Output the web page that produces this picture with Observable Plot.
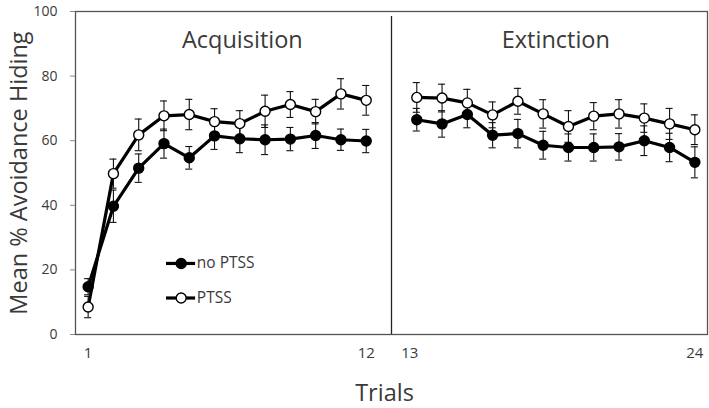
<!DOCTYPE html>
<html>
<head>
<meta charset="utf-8">
<script src="https://cdn.jsdelivr.net/npm/d3@7"></script>
<script src="https://cdn.jsdelivr.net/npm/@observablehq/plot@0.6"></script>
<style>
  html, body { margin: 0; padding: 0; background: #fff; }
</style>
</head>
<body>
<div id="chart"></div>
<script>
// ---- data ----
const trials = [1,2,3,4,5,6,7,8,9,10,11,12,13,14,15,16,17,18,19,20,21,22,23,24];
const noPTSS    = [14.8, 39.7, 51.5, 59.1, 54.7, 61.5, 60.6, 60.3, 60.5, 61.6, 60.3, 59.9, 66.5, 65.2, 68.1, 61.7, 62.2, 58.6, 57.9, 57.9, 58.1, 60.0, 57.9, 53.3];
const noPTSSErr = [2.5, 5.0, 4.4, 4.5, 3.5, 4.2, 4.3, 4.6, 3.6, 4.0, 3.3, 3.6, 3.5, 4.1, 4.1, 3.9, 4.4, 4.3, 4.2, 4.2, 4.1, 4.6, 4.4, 4.8];
const ptss      = [8.5, 49.8, 61.8, 67.7, 68.1, 65.9, 65.3, 69.1, 71.2, 69.0, 74.5, 72.5, 73.4, 73.2, 71.7, 68.0, 72.2, 68.3, 64.4, 67.6, 68.3, 67.0, 65.2, 63.4];
const ptssErr   = [3.3, 4.5, 4.9, 4.6, 4.7, 4.0, 4.0, 5.0, 4.0, 3.8, 4.7, 4.6, 4.6, 4.3, 4.2, 4.0, 4.0, 4.4, 4.9, 4.2, 4.4, 4.4, 4.8, 4.6];
const seriesNames = ["no PTSS", "PTSS"];
const seriesFill = ["#000000", "#ffffff"];
const phases = ["Acquisition", "Extinction"];
const lastAcqTrial = 12;
const xTickLabels = [1, 12, 13, 24];
const yTicks = [0, 20, 40, 60, 80, 100];
const xTitle = "Trials";
const yTitle = "Mean % Avoidance Hiding";

// ---- layout helpers ----
// slot index: acquisition trials occupy 0..11, a gap slot at 12, extinction 13..24
const pos = t => (t <= lastAcqTrial ? t - 1 : t);
const gapPos = lastAcqTrial; // divider slot
const phaseOf = t => (t <= lastAcqTrial ? phases[0] : phases[1]);

const rows = [];
trials.forEach((t, i) => {
  rows.push({trial: t, series: seriesNames[0], fill: seriesFill[0], value: noPTSS[i], err: noPTSSErr[i], phase: phaseOf(t)});
});
trials.forEach((t, i) => {
  rows.push({trial: t, series: seriesNames[1], fill: seriesFill[1], value: ptss[i], err: ptssErr[i], phase: phaseOf(t)});
});

const phaseLabels = phases.map((p, i) => {
  const ts = trials.filter(t => phaseOf(t) === p);
  return {label: p, x: (pos(ts[0]) + pos(ts[ts.length - 1])) / 2 + (i === 0 ? 0.6 : 0.0)};
});

// legend rows (placed inside the plot, lower-left of acquisition panel)
const legend = seriesNames.map((s, i) => ({label: s, fill: seriesFill[i], y: i === 0 ? 22 : 11.3}));
const legendX0 = 3.1, legendX1 = 4.25, legendXc = 3.68, legendXt = 4.3;

const textColor = "#3a3a3a";
const capHalf = 0.14;

const chart = Plot.plot({
  width: 709,
  height: 408,
  marginLeft: 75,
  marginRight: 2,
  marginTop: 11,
  marginBottom: 74,
  style: {fontFamily: "'Open Sans', sans-serif", color: textColor, background: "#fff"},
  x: {domain: [-0.5, 24.5], axis: null},
  y: {domain: [0, 100], axis: null},
  marks: [
    Plot.frame({stroke: "#555", strokeWidth: 1.3}),
    Plot.axisY({ticks: yTicks, tickSize: 5, tickPadding: 13, fontSize: 14, label: null, color: textColor, stroke: "#888"}),
    Plot.ruleX([gapPos], {x: d => d, y1: 0, y2: 100, stroke: "#222", strokeWidth: 1.3, insetBottom: -5}),
    // lines
    Plot.line(rows, {x: d => pos(d.trial), y: "value", z: d => d.series + d.phase, stroke: "#000", strokeWidth: 3.2}),
    // error bars
    Plot.ruleX(rows, {x: d => pos(d.trial), y1: d => d.value - d.err, y2: d => d.value + d.err, stroke: "#111", strokeWidth: 1.1}),
    Plot.ruleY(rows, {y: d => d.value + d.err, x1: d => pos(d.trial) - capHalf, x2: d => pos(d.trial) + capHalf, stroke: "#111", strokeWidth: 1.1}),
    Plot.ruleY(rows, {y: d => d.value - d.err, x1: d => pos(d.trial) - capHalf, x2: d => pos(d.trial) + capHalf, stroke: "#111", strokeWidth: 1.1}),
    // markers
    Plot.dot(rows, {x: d => pos(d.trial), y: "value", r: 5, fill: "fill", stroke: "#000", strokeWidth: 1.4}),
    // phase labels
    Plot.text(phaseLabels, {x: "x", y: 91, text: "label", fontSize: 23.5, fill: textColor, lineAnchor: "middle"}),
    // legend
    Plot.ruleY(legend, {y: "y", x1: legendX0, x2: legendX1, stroke: "#000", strokeWidth: 3.2}),
    Plot.dot(legend, {x: legendXc, y: "y", r: 5, fill: "fill", stroke: "#000", strokeWidth: 1.4}),
    Plot.text(legend, {x: legendXt, y: "y", text: "label", textAnchor: "start", fontSize: 15.5, fill: textColor, lineAnchor: "middle"}),
    // x tick labels
    Plot.text(xTickLabels.filter(t => t !== lastAcqTrial + 1), {x: d => pos(d), text: d => String(d), frameAnchor: "bottom", dy: 19, lineAnchor: "middle", fontSize: 15, fill: textColor}),
    Plot.text(xTickLabels.filter(t => t === lastAcqTrial + 1), {x: d => pos(d), text: d => String(d), frameAnchor: "bottom", dy: 19, dx: -7, lineAnchor: "middle", fontSize: 15, fill: textColor}),
    // axis titles
    Plot.text([xTitle], {frameAnchor: "bottom", dy: 59, dx: -7, text: d => d, lineAnchor: "middle", fontSize: 23.5, fill: textColor}),
    Plot.text([yTitle], {frameAnchor: "left", dx: -56, text: d => d, rotate: -90, textAnchor: "middle", lineAnchor: "middle", fontSize: 23.5, fill: textColor})
  ]
});
document.getElementById("chart").appendChild(chart);
</script>
</body>
</html>
